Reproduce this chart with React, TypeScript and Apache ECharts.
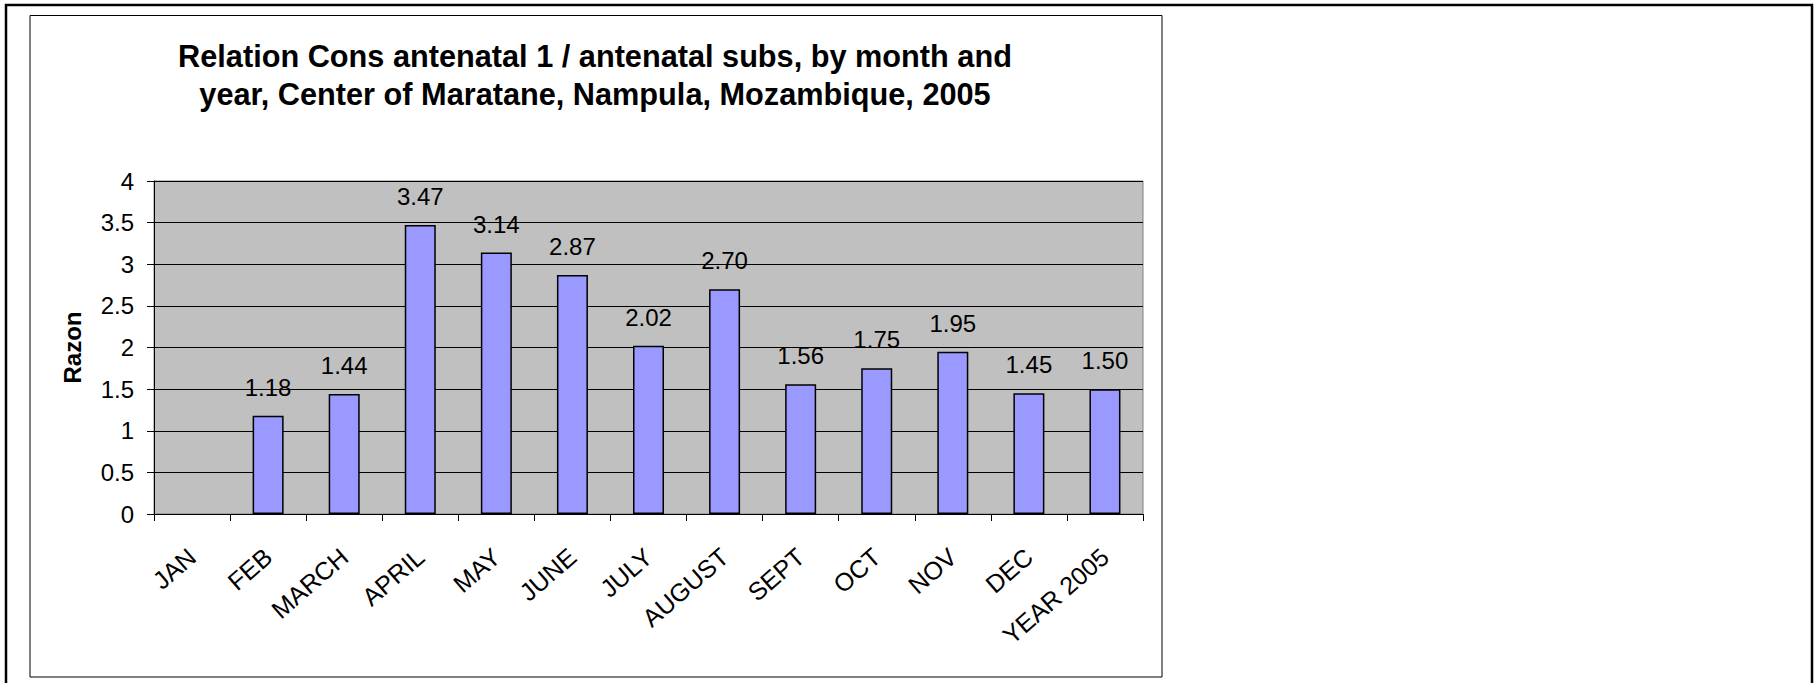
import React, { useEffect, useRef } from "react";
import * as echarts from "echarts";

const categories = ["JAN", "FEB", "MARCH", "APRIL", "MAY", "JUNE", "JULY", "AUGUST", "SEPT", "OCT", "NOV", "DEC", "YEAR 2005"];
const ratios: (number | null)[] = [null, 1.18, 1.44, 3.47, 3.14, 2.87, 2.02, 2.70, 1.56, 1.75, 1.95, 1.45, 1.50];
const titleLines = [
  "Relation Cons antenatal 1 / antenatal subs, by month and",
  "year, Center of Maratane, Nampula, Mozambique, 2005",
];
const yAxisName = "Razon";

const FONT = "Arial, 'Liberation Sans', Helvetica, sans-serif";

export default function App() {
  const ref = useRef<HTMLDivElement>(null);
  useEffect(() => {
    document.body.style.margin = "0";
    const chart = echarts.init(ref.current!, null, { renderer: "svg" });
    chart.setOption({
      animation: false,
      backgroundColor: "#ffffff",
      title: {
        text: titleLines.join("\n"),
        left: 595,
        top: 37,
        textAlign: "center",
        padding: 0,
        textStyle: {
          fontFamily: FONT,
          fontSize: 30.7,
          fontWeight: "bold",
          color: "#000",
          lineHeight: 38.5,
        },
      },
      graphic: [
        {
          type: "rect",
          z: -10,
          shape: { x: 6, y: 5, width: 1806, height: 720 },
          style: { fill: "none", stroke: "#000", lineWidth: 2.5 },
        },
        {
          type: "rect",
          z: -10,
          shape: { x: 30, y: 15.5, width: 1132, height: 661.5 },
          style: { fill: "none", stroke: "#000", lineWidth: 1 },
        },
      ],
      grid: {
        left: 154,
        top: 181,
        width: 989,
        height: 333,
        show: true,
        backgroundColor: "#C0C0C0",
        borderColor: "#808080",
        borderWidth: 1,
      },
      xAxis: {
        type: "category",
        data: categories,
        axisLine: { lineStyle: { color: "#000", width: 1 } },
        axisTick: { show: true, length: 7, lineStyle: { color: "#000" } },
        axisLabel: {
          rotate: 41,
          interval: 0,
          margin: 39,
          fontFamily: FONT,
          fontSize: 25,
          color: "#000",
        },
        splitLine: { show: false },
      },
      yAxis: {
        type: "value",
        min: 0,
        max: 4,
        interval: 0.5,
        name: yAxisName,
        nameLocation: "middle",
        nameGap: 70,
        nameRotate: 90,
        nameTextStyle: {
          fontFamily: FONT,
          fontSize: 24,
          fontWeight: "bold",
          color: "#000",
        },
        axisLine: { show: true, lineStyle: { color: "#000", width: 1 } },
        axisTick: { show: true, length: 7, lineStyle: { color: "#000" } },
        axisLabel: {
          margin: 20,
          fontFamily: FONT,
          fontSize: 24,
          color: "#000",
        },
        splitLine: { show: true, lineStyle: { color: "#000", width: 1 } },
      },
      series: [
        {
          type: "bar",
          data: ratios,
          barWidth: 31,
          itemStyle: { color: "#9999FF", borderColor: "#000", borderWidth: 1.5 },
          label: {
            show: true,
            position: "top",
            distance: 16.5,
            fontFamily: FONT,
            fontSize: 24,
            color: "#000",
            formatter: (p: any) => (p.value == null ? "" : Number(p.value).toFixed(2)),
          },
        },
      ],
    });
    return () => chart.dispose();
  }, []);
  return <div ref={ref} style={{ width: 1816, height: 683 }} />;
}
